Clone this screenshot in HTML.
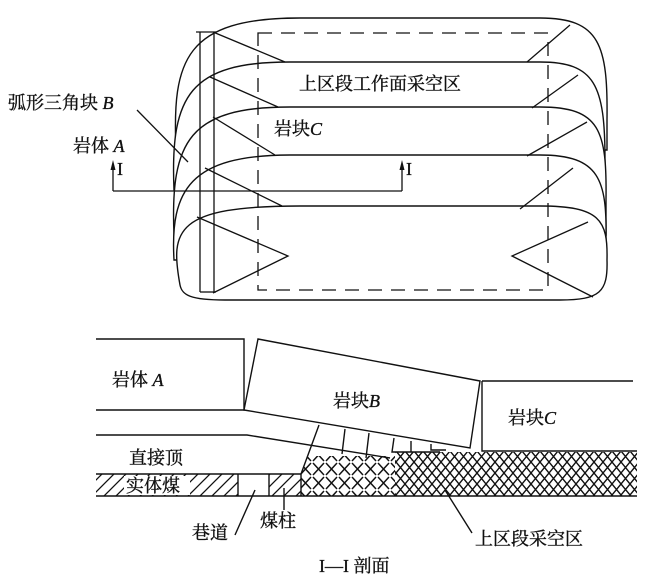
<!DOCTYPE html>
<html><head><meta charset="utf-8"><style>
html,body{margin:0;padding:0;background:#fff}
svg{display:block}
text{font-family:"Liberation Serif","Noto Serif CJK SC",serif;font-size:18px;fill:#111;stroke:#111;stroke-width:0.35}
.i{font-style:italic}
</style></head><body>
<svg width="650" height="584" viewBox="0 0 650 584" xmlns="http://www.w3.org/2000/svg">
<defs>
<pattern id="hatch" width="12" height="12" patternUnits="userSpaceOnUse">
<path d="M-3 15 L15 -3 M-3 3 L3 -3 M9 15 L15 9" stroke="#111" stroke-width="1.3"/>
</pattern>
<pattern id="xx" width="9" height="11" patternUnits="userSpaceOnUse">
<path d="M0 0 L9 11 M9 0 L0 11" stroke="#111" stroke-width="1.4"/>
</pattern>
<pattern id="xx2" width="13" height="14" patternUnits="userSpaceOnUse">
<path d="M1 1 L12 13 M12 1 L1 13" stroke="#111" stroke-width="1.5"/>
</pattern>
</defs>
<g fill="#fff" stroke="#111" stroke-width="1.4">
<path d="M176 150 C172 60,185 18,300 18 L540 18 C600 18,608 45,607 120 L607 150 Z"/>
<path d="M174 190 C170 95,190 62,290 62 L540 62 C595 62,605 85,605 160 L605 190 Z"/>
<path d="M174 235 C170 140,190 107,290 107 L540 107 C600 107,607 130,606 200 L606 235 Z"/>
<path d="M174 260 C170 190,190 155,290 155 L540 155 C600 155,607 180,606 240 L606 260 Z"/>
<path d="M180 285 C170 230,175 206,300 206 L540 206 C600 206,608 220,607 260 C608 292,600 300,560 300 L225 300 C190 300,182 295,180 285 Z"/>
</g>
<g stroke="#111" stroke-width="1.3" fill="none">
<rect x="258" y="33" width="290" height="257" stroke-dasharray="14,9"/>
<line x1="200" y1="32" x2="200" y2="292"/>
<line x1="214" y1="32" x2="214" y2="292"/>
<line x1="196" y1="32" x2="216" y2="32"/>
<line x1="200" y1="292" x2="216" y2="292"/>
<path d="M213 32 L285 62 M210 77 L278 107 M213 117 L275 155 M205 168 L282 206 M197 217 L288 256 L213 293"/>
<path d="M527 62 L570 25 M532 108 L578 75 M527 156 L587 122 M520 209 L573 168 M588 222 L512 256 L593 297"/>
<path d="M137 110 L188 162"/>
<path d="M113 191 L402 191 M113 191 L113 166 M402 191 L402 166"/>
</g>
<path d="M113 160 L110.5 170 L115.5 170 Z M402 160 L399.5 170 L404.5 170 Z" fill="#111"/>
<text x="299" y="90" font-size="19">上区段工作面采空区</text>
<text x="274" y="135" font-size="19">岩块<tspan class="i">C</tspan></text>
<text x="8" y="109" font-size="19">弧形三角块 <tspan class="i">B</tspan></text>
<text x="73" y="152" font-size="19">岩体 <tspan class="i">A</tspan></text>
<text x="117" y="175" font-size="18">I</text>
<text x="406" y="175" font-size="18">I</text>

<rect x="301" y="456" width="94" height="40" fill="url(#xx2)"/>
<path d="M395 452 L637 452 L637 496 L395 496 Z" fill="url(#xx)"/>
<path d="M301 474 L319 425 L301 425 Z" fill="#fff"/>
<rect x="96" y="474" width="142" height="22" fill="url(#hatch)"/>
<rect x="269" y="474" width="32" height="22" fill="url(#hatch)"/>
<rect x="124" y="476" width="66" height="19" fill="#fff"/>
<g stroke="#111" stroke-width="1.4" fill="none">
<path d="M96 339 L244 339 L244 410 L96 410"/>
<path d="M244 410 L258 339 L480 381 L470 448 Z" fill="#fff"/>
<path d="M482 381 L633 381 M482 381 L482 451 L637 451"/>
<path d="M96 435 L247 435 L390 458"/>
<path d="M319 425 L301 474 M345 429 L342 454 M369 433 L366 458 M394 438 L392 452 L440 452 M411 441 L411 452 M431 444 L431 450 L446 450"/>
<path d="M96 474 L301 474 M96 496 L637 496 M238 474 L238 496 M269 474 L269 496 M301 474 L301 496"/>
<path d="M255 490 L235 535 M284 488 L284 510 M445 490 L472 533"/>
</g>
<text x="112" y="386" font-size="19">岩体 <tspan class="i">A</tspan></text>
<text x="333" y="407" font-size="19">岩块<tspan class="i">B</tspan></text>
<text x="508" y="424" font-size="19">岩块<tspan class="i">C</tspan></text>
<text x="129" y="464" font-size="19">直接顶</text>
<text x="126" y="492" font-size="19">实体煤</text>
<text x="192" y="539" font-size="19">巷道</text>
<text x="260" y="527" font-size="19">煤柱</text>
<text x="475" y="545" font-size="19">上区段采空区</text>
<text x="319" y="572" font-size="19">I—I 剖面</text>
</svg>
</body></html>
